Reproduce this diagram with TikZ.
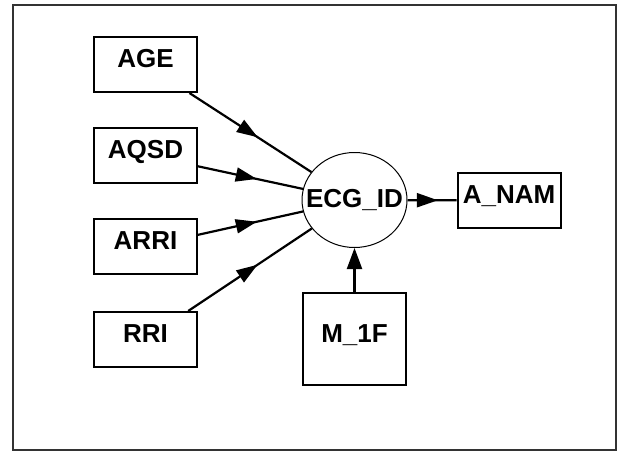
\documentclass[tikz,border=0pt]{standalone}
\usepackage{fontspec}
\setmainfont{Liberation Sans}
\usetikzlibrary{arrows.meta,shapes.geometric,decorations.markings}

\begin{document}
\begin{tikzpicture}[
    x=1pt, y=-1pt,
    box/.style={rectangle, draw, line width=2pt, minimum width=103pt, minimum height=55pt, inner sep=0pt, text height=18pt, text depth=12pt, font=\bfseries\fontsize{26}{30}\selectfont},
    hub/.style={ellipse, draw, line width=1pt, minimum width=105pt, minimum height=95pt, inner sep=0pt},
    lbl/.style={inner sep=0pt, font=\bfseries\fontsize{26}{30}\selectfont},
    arrow/.style={line width=2.2pt, postaction={decorate}, decoration={markings, mark=at position #1 with {\arrow{Triangle[length=21pt,width=14pt]}}}},
    arrow/.default=0.56
  ]
    \useasboundingbox (0,0) rectangle (624,451);
    \draw[line width=1.2pt, black!80] (13,5) rectangle (616,450);

    % Inputs on the left
    \node[box] (age) at (145.5, 64.5) {AGE};
    \node[box] (aqsd) at (145.5, 155) {AQSD};
    \node[box] (arri) at (145.5, 246.5) {ARRI};
    \node[box] (rri) at (145.5, 339.5) {RRI};

    % Centre node
    \node[hub, label={[lbl]center:ECG\_ID}] (ecg) at (354.5, 200) {};
    \draw[arrow] (age) -- (ecg);
    \draw[arrow] (aqsd) -- (ecg);
    \draw[arrow] (arri) -- (ecg);
    \draw[arrow] (rri) -- (ecg);

    % Output
    \node[box] (anam) at (509, 200.5) {A\_NAM};
    \draw[arrow=0.62] (ecg) -- (anam);

    % Bottom input
    \node[box, minimum height=92pt] (mif) at (354.5, 339) {M\_1F};
    \draw[line width=2.2pt, -{Triangle[length=21pt,width=15pt]}] (mif) -- (ecg);
  \end{tikzpicture}
\end{document}
